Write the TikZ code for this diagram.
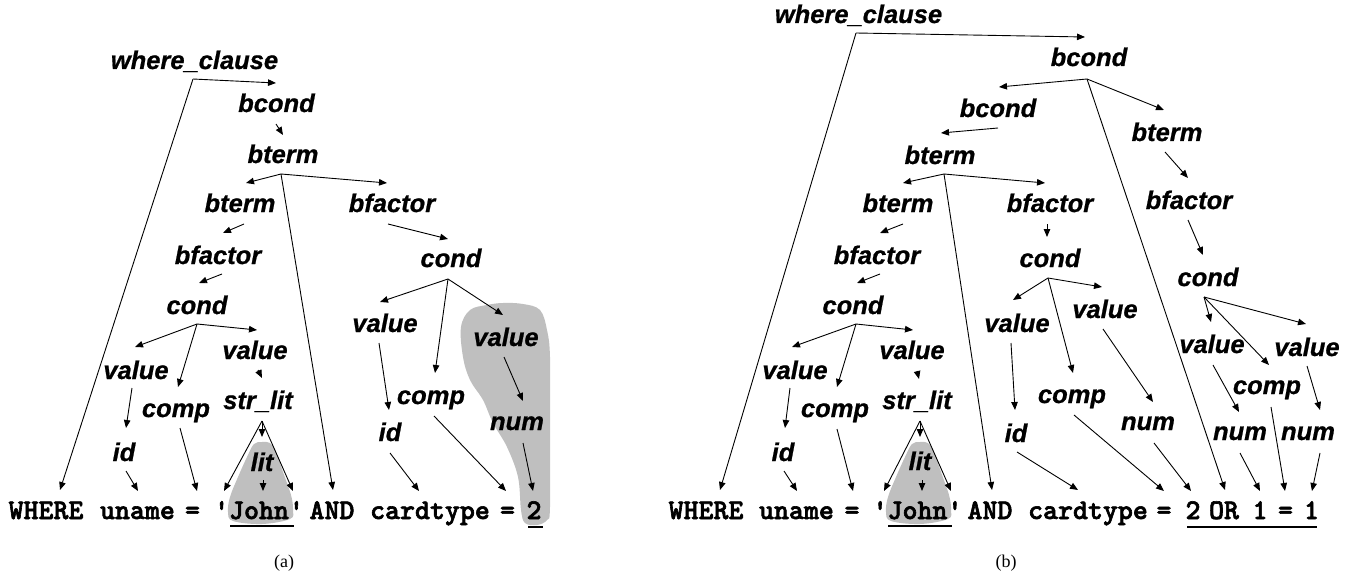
\documentclass[tikz,border=0pt]{standalone}
\usepackage{fontspec}
\setmainfont{Liberation Serif}
\setsansfont{Liberation Sans}[BoldItalicFeatures={FakeBold=0.8}]
\newfontfamily\codefont{lmmonolt10-bold.otf}[FakeBold=2.2]
\usetikzlibrary{arrows.meta}
\tikzset{
 lbl/.style={font=\fontsize{25.5}{28}\sffamily\bfseries\itshape, inner sep=0pt, anchor=base},
 tok/.style={font=\fontsize{28.5}{30}\codefont, inner sep=0pt, anchor=base},
 capt/.style={font=\fontsize{18}{20}\rmfamily, inner sep=0pt, anchor=base},
 arr/.style={-{Triangle[length=8pt,width=6.5pt]}, line width=0.9pt},
 blob/.style={fill=black!25, draw=none},
 uline/.style={line width=2.5pt},
}
\begin{document}
\begin{tikzpicture}[x=1pt,y=-1pt]
\useasboundingbox (0,0) rectangle (1355,583);

% ---------- shaded regions ----------
\fill[blob] plot[smooth cycle, tension=0.6] coordinates {(262,442) (270,443) (276,452) (283,472) (291,495) (293,510) (290,519) (262,524) (233,521) (228,512) (230,497) (238,477) (247,457) (254,444)};
\fill[blob] plot[smooth cycle, tension=0.6] coordinates {(487,305) (503,303) (523,304) (540,310) (547,330) (550,357) (550,423) (550,507) (547,520) (537,525) (525,523) (521,510) (518,477) (507,447) (493,423) (483,400) (470,380) (463,357) (461,327) (470,310)};
\fill[blob] plot[smooth cycle, tension=0.6] coordinates {(920,442) (928,443) (934,452) (941,472) (949,495) (951,510) (948,519) (920,524) (891,521) (886,512) (888,497) (896,477) (905,457) (912,444)};

% ================= (a) =================
\node[lbl] (a-wc) at (194.5,69) {where\_clause};
\node[lbl] (a-bcond) at (276.5,112) {bcond};
\node[lbl] (a-bterm1) at (283,163) {bterm};
\node[lbl] (a-bterm2) at (240,212) {bterm};
\node[lbl] (a-bfactor1) at (218,264) {bfactor};
\node[lbl] (a-cond1) at (197,314) {cond};
\node[lbl] (a-value1) at (136,379) {value};
\node[lbl] (a-value2) at (255,359) {value};
\node[lbl] (a-comp1) at (176,417) {comp};
\node[lbl] (a-id1) at (124,461) {id};
\node[lbl] (a-strlit) at (258,409) {str\_lit};
\node[lbl] (a-lit) at (262,471) {lit};
\node[lbl] (a-bfactor2) at (392,212) {bfactor};
\node[lbl] (a-cond2) at (451,267) {cond};
\node[lbl] (a-value3) at (385,332) {value};
\node[lbl] (a-comp2) at (431,404) {comp};
\node[lbl] (a-id2) at (390,441) {id};
\node[lbl] (a-value4) at (506,346) {value};
\node[lbl] (a-num) at (517,430) {num};

\node[tok] (a-where) at (46,519) {WHERE};
\node[tok] (a-uname) at (137.5,519) {uname};
\node[tok] (a-eq1) at (192.5,519) {=};
\node[tok] (a-john) at (259,519) {\textquotesingle John\textquotesingle};
\node[tok] (a-and) at (332,519) {AND};
\node[tok] (a-cardtype) at (430,519) {cardtype};
\node[tok] (a-eq2) at (507.5,519) {=};
\node[tok] (a-two) at (534,519) {2};
\draw[uline] (230,526) -- (294,526);
\draw[uline] (528,527) -- (543,527);
\node[capt] (a-cap) at (284,567) {(a)};

% connector points (a)
\coordinate (a-wc-o) at (193,79);
\coordinate (a-bcond-i) at (276,83);
\coordinate (a-where-i) at (60,490);
\coordinate (a-bcond-o) at (276,124);
\coordinate (a-bterm1-i) at (283,135);
\coordinate (a-bterm1-o) at (281,174);
\coordinate (a-bterm2-i) at (246,183);
\coordinate (a-bfactor2-i) at (387,183);
\coordinate (a-and-i) at (333,490);
\coordinate (a-bterm2-o) at (244,224);
\coordinate (a-bfactor1-i) at (223,233);
\coordinate (a-bfactor1-o) at (222,274);
\coordinate (a-cond1-i) at (199,283);
\coordinate (a-cond1-o) at (197,324);
\coordinate (a-value1-i) at (135,347);
\coordinate (a-comp1-i) at (178,387);
\coordinate (a-value2-i) at (257,330);
\coordinate (a-value1-o) at (132,388);
\coordinate (a-id1-i) at (126,428);
\coordinate (a-id1-o) at (126,471);
\coordinate (a-uname-i) at (138,491);
\coordinate (a-comp1-o) at (180,428);
\coordinate (a-eq1-i) at (197,491);
\coordinate (a-value2-o) at (258,370);
\coordinate (a-strlit-i) at (262,378);
\coordinate (a-strlit-o) at (262,421);
\coordinate (a-q1-i) at (224,491);
\coordinate (a-lit-i) at (262,437);
\coordinate (a-q2-i) at (293,491);
\coordinate (a-lit-o) at (263,480);
\coordinate (a-john-i) at (263,491);
\coordinate (a-bfactor2-o) at (388,224);
\coordinate (a-cond2-i) at (448,239);
\coordinate (a-cond2-o) at (448,279);
\coordinate (a-value3-i) at (380,302);
\coordinate (a-comp2-i) at (435,373);
\coordinate (a-value4-i) at (503,315);
\coordinate (a-value3-o) at (379,343);
\coordinate (a-id2-i) at (389,410);
\coordinate (a-id2-o) at (390,453);
\coordinate (a-cardtype-i) at (419,491);
\coordinate (a-comp2-o) at (434,416);
\coordinate (a-eq2-i) at (506,491);
\coordinate (a-value4-o) at (504,357);
\coordinate (a-num-i) at (523,401);
\coordinate (a-num-o) at (523,443);
\coordinate (a-two-i) at (533,491);

\draw[arr] (a-wc-o) -- (a-bcond-i);
\draw[arr] (a-wc-o) -- (a-where-i);
\draw[arr] (a-bcond-o) -- (a-bterm1-i);
\draw[arr] (a-bterm1-o) -- (a-bterm2-i);
\draw[arr] (a-bterm1-o) -- (a-bfactor2-i);
\draw[arr] (a-bterm1-o) -- (a-and-i);
\draw[arr] (a-bterm2-o) -- (a-bfactor1-i);
\draw[arr] (a-bfactor1-o) -- (a-cond1-i);
\draw[arr] (a-cond1-o) -- (a-value1-i);
\draw[arr] (a-cond1-o) -- (a-comp1-i);
\draw[arr] (a-cond1-o) -- (a-value2-i);
\draw[arr] (a-value1-o) -- (a-id1-i);
\draw[arr] (a-id1-o) -- (a-uname-i);
\draw[arr] (a-comp1-o) -- (a-eq1-i);
\draw[arr] (a-value2-o) -- (a-strlit-i);
\draw[arr] (a-strlit-o) -- (a-q1-i);
\draw[arr] (a-strlit-o) -- (a-lit-i);
\draw[arr] (a-strlit-o) -- (a-q2-i);
\draw[arr] (a-lit-o) -- (a-john-i);
\draw[arr] (a-bfactor2-o) -- (a-cond2-i);
\draw[arr] (a-cond2-o) -- (a-value3-i);
\draw[arr] (a-cond2-o) -- (a-comp2-i);
\draw[arr] (a-cond2-o) -- (a-value4-i);
\draw[arr] (a-value3-o) -- (a-id2-i);
\draw[arr] (a-id2-o) -- (a-cardtype-i);
\draw[arr] (a-comp2-o) -- (a-eq2-i);
\draw[arr] (a-value4-o) -- (a-num-i);
\draw[arr] (a-num-o) -- (a-two-i);

% ================= (b) =================
\node[lbl] (b-wc) at (858.5,23) {where\_clause};
\node[lbl] (b-bcond1) at (1089,66) {bcond};
\node[lbl] (b-bcond2) at (998,117) {bcond};
\node[lbl] (b-bterm1) at (940,164) {bterm};
\node[lbl] (b-bterm2) at (898,212) {bterm};
\node[lbl] (b-bfactor1) at (877,264) {bfactor};
\node[lbl] (b-cond1) at (853,314) {cond};
\node[lbl] (b-value1) at (795,379) {value};
\node[lbl] (b-value2) at (912,359) {value};
\node[lbl] (b-comp1) at (835,417) {comp};
\node[lbl] (b-id1) at (783,461) {id};
\node[lbl] (b-strlit) at (917,409) {str\_lit};
\node[lbl] (b-lit) at (920,470) {lit};
\node[lbl] (b-bfactor2) at (1050,212) {bfactor};
\node[lbl] (b-cond2) at (1050,267) {cond};
\node[lbl] (b-value3) at (1017,332) {value};
\node[lbl] (b-value4) at (1105,318) {value};
\node[lbl] (b-comp2) at (1072,403) {comp};
\node[lbl] (b-id2) at (1016,442) {id};
\node[lbl] (b-num1) at (1148,430) {num};
\node[lbl] (b-bterm3) at (1167,141) {bterm};
\node[lbl] (b-bfactor3) at (1189,209) {bfactor};
\node[lbl] (b-cond3) at (1208,286) {cond};
\node[lbl] (b-value5) at (1212,353) {value};
\node[lbl] (b-value6) at (1307,356) {value};
\node[lbl] (b-comp3) at (1267,394) {comp};
\node[lbl] (b-num2) at (1240,440) {num};
\node[lbl] (b-num3) at (1308,440) {num};

\node[tok] (b-where) at (706,519) {WHERE};
\node[tok] (b-uname) at (796.5,519) {uname};
\node[tok] (b-eq1) at (852,519) {=};
\node[tok] (b-john) at (917.5,519) {\textquotesingle John\textquotesingle};
\node[tok] (b-and) at (990,519) {AND};
\node[tok] (b-cardtype) at (1088,519) {cardtype};
\node[tok] (b-eq2) at (1164,519) {=};
\node[tok] (b-two) at (1193,519) {2};
\node[tok] (b-or) at (1224,519) {OR};
\node[tok] (b-one1) at (1260,519) {1};
\node[tok] (b-eq3) at (1285.5,519) {=};
\node[tok] (b-one2) at (1311.5,519) {1};
\draw[uline] (888,526) -- (952,526);
\draw[uline] (1187,527) -- (1317,527);
\node[capt] (b-cap) at (1006,567) {(b)};

% connector points (b)
\coordinate (b-wc-o) at (856,33);
\coordinate (b-bcond1-i) at (1085,37);
\coordinate (b-where-i) at (720,490);
\coordinate (b-bcond1-o) at (1087,79);
\coordinate (b-bcond2-i) at (999,87);
\coordinate (b-bterm3-i) at (1164,110);
\coordinate (b-or-i) at (1225,490);
\coordinate (b-bcond2-o) at (998,128);
\coordinate (b-bterm1-i) at (941,133);
\coordinate (b-bterm1-o) at (944,174);
\coordinate (b-bterm2-i) at (903,183);
\coordinate (b-bfactor2-i) at (1045,183);
\coordinate (b-and-i) at (992,490);
\coordinate (b-bterm2-o) at (903,224);
\coordinate (b-bfactor1-i) at (880,233);
\coordinate (b-bfactor1-o) at (880,274);
\coordinate (b-cond1-i) at (857,283);
\coordinate (b-cond1-o) at (856,324);
\coordinate (b-value1-i) at (792,347);
\coordinate (b-comp1-i) at (837,387);
\coordinate (b-value2-i) at (913,330);
\coordinate (b-value1-o) at (790,388);
\coordinate (b-id1-i) at (785,428);
\coordinate (b-id1-o) at (784,471);
\coordinate (b-uname-i) at (797,491);
\coordinate (b-comp1-o) at (837,429);
\coordinate (b-eq1-i) at (853,491);
\coordinate (b-value2-o) at (917,371);
\coordinate (b-strlit-i) at (919,379);
\coordinate (b-strlit-o) at (920,421);
\coordinate (b-q1-i) at (884,491);
\coordinate (b-lit-i) at (920,437);
\coordinate (b-q2-i) at (951,491);
\coordinate (b-lit-o) at (922,480);
\coordinate (b-john-i) at (922,491);
\coordinate (b-bfactor2-o) at (1047,224);
\coordinate (b-cond2-i) at (1047,237);
\coordinate (b-cond2-o) at (1048,278);
\coordinate (b-value3-i) at (1013,300);
\coordinate (b-value4-i) at (1102,287);
\coordinate (b-comp2-i) at (1073,373);
\coordinate (b-value3-o) at (1011,343);
\coordinate (b-id2-i) at (1015,410);
\coordinate (b-id2-o) at (1017,452);
\coordinate (b-cardtype-i) at (1078,490);
\coordinate (b-comp2-o) at (1074,415);
\coordinate (b-eq2-i) at (1164,491);
\coordinate (b-value4-o) at (1103,329);
\coordinate (b-num1-i) at (1153,402);
\coordinate (b-num1-o) at (1154,443);
\coordinate (b-two-i) at (1191,491);
\coordinate (b-bterm3-o) at (1165,152);
\coordinate (b-bfactor3-i) at (1188,178);
\coordinate (b-bfactor3-o) at (1188,220);
\coordinate (b-cond3-i) at (1203,255);
\coordinate (b-cond3-o) at (1204,297);
\coordinate (b-value5-i) at (1211,322);
\coordinate (b-comp3-i) at (1269,365);
\coordinate (b-value6-i) at (1306,324);
\coordinate (b-value5-o) at (1213,365);
\coordinate (b-num2-i) at (1239,412);
\coordinate (b-value6-o) at (1307,366);
\coordinate (b-num3-i) at (1320,410);
\coordinate (b-comp3-o) at (1271,407);
\coordinate (b-eq3-i) at (1285,491);
\coordinate (b-num2-o) at (1240,453);
\coordinate (b-one1-i) at (1260,491);
\coordinate (b-num3-o) at (1320,453);
\coordinate (b-one2-i) at (1312,491);

\draw[arr] (b-wc-o) -- (b-bcond1-i);
\draw[arr] (b-wc-o) -- (b-where-i);
\draw[arr] (b-bcond1-o) -- (b-bcond2-i);
\draw[arr] (b-bcond1-o) -- (b-bterm3-i);
\draw[arr] (b-bcond1-o) -- (b-or-i);
\draw[arr] (b-bcond2-o) -- (b-bterm1-i);
\draw[arr] (b-bterm1-o) -- (b-bterm2-i);
\draw[arr] (b-bterm1-o) -- (b-bfactor2-i);
\draw[arr] (b-bterm1-o) -- (b-and-i);
\draw[arr] (b-bterm2-o) -- (b-bfactor1-i);
\draw[arr] (b-bfactor1-o) -- (b-cond1-i);
\draw[arr] (b-cond1-o) -- (b-value1-i);
\draw[arr] (b-cond1-o) -- (b-comp1-i);
\draw[arr] (b-cond1-o) -- (b-value2-i);
\draw[arr] (b-value1-o) -- (b-id1-i);
\draw[arr] (b-id1-o) -- (b-uname-i);
\draw[arr] (b-comp1-o) -- (b-eq1-i);
\draw[arr] (b-value2-o) -- (b-strlit-i);
\draw[arr] (b-strlit-o) -- (b-q1-i);
\draw[arr] (b-strlit-o) -- (b-lit-i);
\draw[arr] (b-strlit-o) -- (b-q2-i);
\draw[arr] (b-lit-o) -- (b-john-i);
\draw[arr] (b-bfactor2-o) -- (b-cond2-i);
\draw[arr] (b-cond2-o) -- (b-value3-i);
\draw[arr] (b-cond2-o) -- (b-value4-i);
\draw[arr] (b-cond2-o) -- (b-comp2-i);
\draw[arr] (b-value3-o) -- (b-id2-i);
\draw[arr] (b-id2-o) -- (b-cardtype-i);
\draw[arr] (b-comp2-o) -- (b-eq2-i);
\draw[arr] (b-value4-o) -- (b-num1-i);
\draw[arr] (b-num1-o) -- (b-two-i);
\draw[arr] (b-bterm3-o) -- (b-bfactor3-i);
\draw[arr] (b-bfactor3-o) -- (b-cond3-i);
\draw[arr] (b-cond3-o) -- (b-value5-i);
\draw[arr] (b-cond3-o) -- (b-comp3-i);
\draw[arr] (b-cond3-o) -- (b-value6-i);
\draw[arr] (b-value5-o) -- (b-num2-i);
\draw[arr] (b-value6-o) -- (b-num3-i);
\draw[arr] (b-comp3-o) -- (b-eq3-i);
\draw[arr] (b-num2-o) -- (b-one1-i);
\draw[arr] (b-num3-o) -- (b-one2-i);
\end{tikzpicture}
\end{document}
